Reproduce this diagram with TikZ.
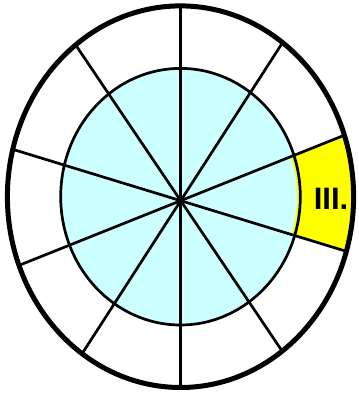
\documentclass[tikz,border=0pt]{standalone}
\usepackage{fontspec}
\setmainfont{Liberation Sans}
\definecolor{lcyan}{RGB}{204,255,255}
\definecolor{hly}{RGB}{255,255,0}
\begin{document}
\begin{tikzpicture}[x=1pt,y=1pt,
  spoke/.style={line width=2.7pt},
  ring/.style={line width=2.7pt},
  rim/.style={line width=5pt},
  label/.style={font=\bfseries\fontsize{31}{31}\selectfont, inner sep=0pt}]
\useasboundingbox (0,0) rectangle (358,398);
\coordinate (E) at (180.5,201.3);
\coordinate (O) at (180.7,197.3);
% fills
\fill[white] (E) ellipse [x radius=173.1, y radius=190.8];
\fill[lcyan] (E) ellipse [x radius=119.8, y radius=128.3];
\begin{scope}
  \clip (O) -- +(21.8:300) -- +(-17:300) -- cycle;
  \fill[hly, even odd rule] (E) ellipse [x radius=173.1, y radius=190.8]
                            (E) ellipse [x radius=116.5, y radius=125.5];
\end{scope}
% spokes
\begin{scope}
  \clip (E) ellipse [x radius=173.1, y radius=190.8];
  \foreach \a in {90,21.8,-17,57.2,124}{
    \draw[spoke] (O) +(\a:260) -- +(\a+180:260);
  }
\end{scope}
\draw[ring] (E) ellipse [x radius=119.8, y radius=128.3];
\draw[rim] (E) ellipse [x radius=173.1, y radius=190.8];
\node[label] (t) at (331,199) {III.};
\end{tikzpicture}
\end{document}
